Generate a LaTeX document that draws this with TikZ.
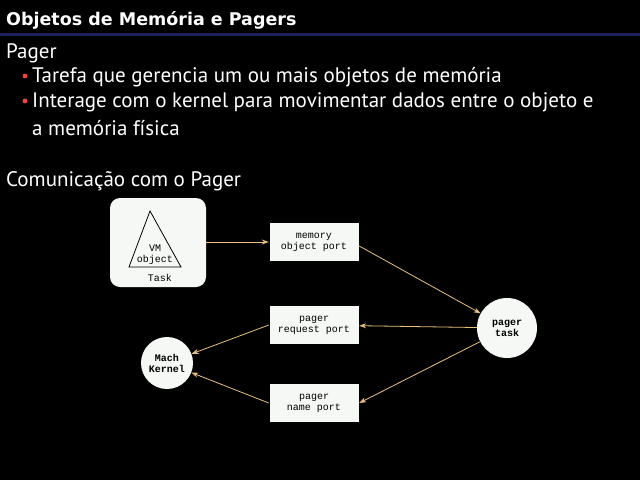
\documentclass[tikz,border=0pt]{standalone}
\usepackage{fontspec}
\setmainfont{PT Sans}
\newfontfamily\titlefont{DejaVu Sans}
\setmonofont{Liberation Mono}
\usetikzlibrary{arrows.meta}
\definecolor{tan}{HTML}{E8C080}
\definecolor{paper}{HTML}{F5F8F5}
\definecolor{rule}{HTML}{202060}
\tikzset{
  port/.style={draw=black,fill=paper,minimum width=90pt,minimum height=39pt,align=center,font=\ttfamily\fontsize{10}{11}\selectfont},
  circ/.style={circle,fill=paper,align=center,font=\ttfamily\bfseries\fontsize{10}{11}\selectfont},
  link/.style={tan,thick,-{Stealth[length=7pt,width=5pt]}},
  txt/.style={white,anchor=west,font=\fontsize{21}{23}\selectfont,inner sep=0pt}
}
\begin{document}
\begin{tikzpicture}[x=1pt,y=-1pt]
	\fill[black] (0,0) rectangle (640,480);
	\useasboundingbox (0,0) rectangle (640,480);
	% title
	\node[white,anchor=west,inner sep=0pt,font=\titlefont\bfseries\fontsize{17.5}{19}\selectfont] (title) at (6,20) {Objetos de Memória e Pagers};
	\fill[rule] (0,33) rectangle (640,36);
	% text
	\node[txt] (pager) at (6,53) {Pager};
	\node[txt] (b1) at (32,77) {Tarefa que gerencia um ou mais objetos de memória};
	\node[txt] (b2) at (32,102) {Interage com o kernel para movimentar dados entre o objeto e};
	\node[txt] (b3) at (32,128) {a memória física};
	\fill[red!75!white] (25,76) circle (2.4) (25,101) circle (2.4);
	\node[txt] (comm) at (6,181) {Comunicação com o Pager};
	% diagram
	\node[fill=paper,rounded corners=10pt,minimum width=96pt,minimum height=89pt] (task) at (158,242.5) {};
	\draw[thick] (150,211) -- (181,267) -- (129,267) -- cycle;
	\node[align=center,font=\ttfamily\fontsize{10}{11}\selectfont,inner sep=0pt] (vm) at (155,255) {VM\\object};
	\node[font=\ttfamily\fontsize{10}{11}\selectfont,inner sep=0pt] (tasklbl) at (160,278) {Task};
	\node[port] (mop) at (314,242) {memory\\object port};
	\node[port] (prp) at (314,325) {pager\\request port};
	\node[port] (pnp) at (314,403) {pager\\name port};
	\node[circ,minimum size=60pt] (ptask) at (507,328) {pager\\task};
	\node[circ,minimum size=52pt] (kernel) at (167,363) {Mach\\Kernel};
	\draw[link] (task.east |- mop) -- (mop);
	\draw[link] (mop.east) ++(0,4) -- (ptask);
	\draw[link] (ptask) -- (prp);
	\draw[link] (prp.west) -- (kernel);
	\draw[link] (ptask) -- (pnp.east);
	\draw[link] (pnp.west) -- (kernel);
\end{tikzpicture}
\end{document}
